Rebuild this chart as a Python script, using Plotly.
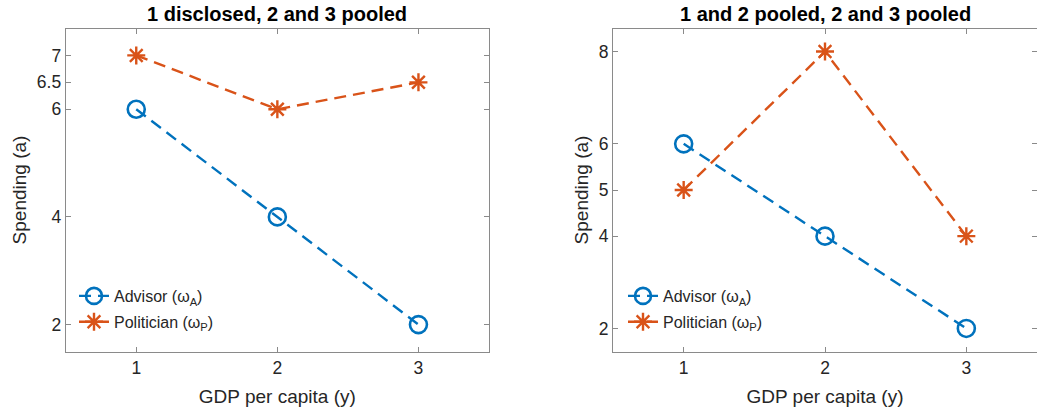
import plotly.graph_objects as go

# Data
gdp = [1, 2, 3]
advisor_left = [6, 4, 2]
politician_left = [7, 6, 6.5]
advisor_right = [6, 4, 2]
politician_right = [5, 8, 4]
titles = ["1 disclosed, 2 and 3 pooled", "1 and 2 pooled, 2 and 3 pooled"]
yticks_left = [2, 4, 6, 6.5, 7]
yticks_right = [2, 4, 5, 6, 8]
xticks = [1, 2, 3]

BLUE = "#0072BD"
ORANGE = "#D95319"
FONT = "Liberation Sans, Arial, sans-serif"
W, H = 1037, 415

fig = go.Figure()

def add_pair(adv, pol, xa, ya, leg, g):
    fig.add_trace(go.Scatter(
        x=gdp, y=adv, mode="lines+markers", name="Advisor (ω<sub>A</sub>)",
        xaxis=xa, yaxis=ya, legend=leg, legendgroup="a" + g,
        line=dict(color=BLUE, width=2.4, dash="12px,7px"),
        marker=dict(symbol="circle-open", size=17, color=BLUE, line=dict(width=2.6, color=BLUE)),
    ))
    fig.add_trace(go.Scatter(
        x=gdp, y=pol, mode="lines+markers", name="Politician (ω<sub>P</sub>)",
        xaxis=xa, yaxis=ya, legend=leg, legendgroup="p" + g,
        line=dict(color=ORANGE, width=2.4, dash="12px,7px"),
        marker=dict(symbol="asterisk-open", size=15, color=ORANGE, line=dict(width=2.4, color=ORANGE)),
    ))

add_pair(advisor_left, politician_left, "x", "y", "legend", "1")
add_pair(advisor_right, politician_right, "x2", "y2", "legend2", "2")

ydom = [1 - 351.5 / H, 1 - 28.5 / H]
axis_common = dict(
    showline=True, linecolor="#8a8a8a", linewidth=1, mirror="ticks",
    ticks="inside", ticklen=5, tickcolor="#8a8a8a", showgrid=False, zeroline=False,
    tickfont=dict(family=FONT, size=17.5, color="#262626"),
)
xt = dict(text="GDP per capita (y)", font=dict(family=FONT, size=19, color="#262626"), standoff=13)
yt = dict(text="Spending (a)", font=dict(family=FONT, size=19, color="#262626"), standoff=5)

fig.update_layout(
    width=W, height=H,
    margin=dict(l=0, r=0, t=0, b=0),
    paper_bgcolor="white", plot_bgcolor="white",
    font=dict(family=FONT, color="#262626"),
    xaxis=dict(domain=[65.7 / W, 489 / W], range=[0.5, 3.5], tickvals=xticks, anchor="y", title=xt, **axis_common),
    yaxis=dict(domain=ydom, range=[1.5, 7.5], tickvals=yticks_left, ticktext=[str(v) for v in yticks_left], anchor="x", title=yt, **axis_common),
    xaxis2=dict(domain=[613 / W, 1.0], range=[0.5, 3.5], tickvals=xticks, anchor="y2", title=xt, **axis_common),
    yaxis2=dict(domain=ydom, range=[1.5, 8.5], tickvals=yticks_right, anchor="x2", title=yt, **axis_common),
    legend=dict(x=74 / W, y=1 - 279 / H, xanchor="left", yanchor="top", bgcolor="rgba(0,0,0,0)",
                font=dict(family=FONT, size=16, color="#262626"), tracegroupgap=2, itemwidth=30),
    legend2=dict(x=623 / W, y=1 - 279 / H, xanchor="left", yanchor="top", bgcolor="rgba(0,0,0,0)",
                 font=dict(family=FONT, size=16, color="#262626"), tracegroupgap=2, itemwidth=30),
    annotations=[
        dict(text="<b>" + titles[0] + "</b>", x=(65.7 + 489) / 2 / W, y=1 - 14 / H, xref="paper", yref="paper",
             showarrow=False, font=dict(family=FONT, size=20, color="black"), xanchor="center", yanchor="middle"),
        dict(text="<b>" + titles[1] + "</b>", x=(613 + 1037) / 2 / W, y=1 - 14 / H, xref="paper", yref="paper",
             showarrow=False, font=dict(family=FONT, size=20, color="black"), xanchor="center", yanchor="middle"),
    ],
)

fig.write_html("out.html", config={"displayModeBar": False},
               post_script="document.body.style.margin='0';document.body.style.overflow='hidden';")
